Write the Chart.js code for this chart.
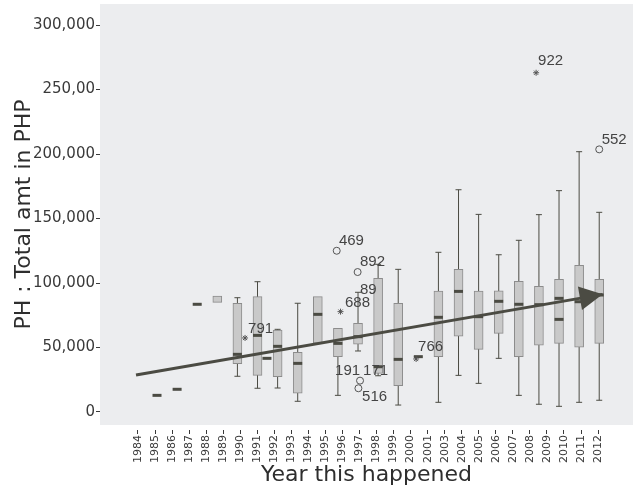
<!DOCTYPE html>
<html><head><meta charset="utf-8">
<script src="https://cdn.jsdelivr.net/npm/chart.js@4"></script>
<style>html,body{margin:0;padding:0;background:#fff}</style>
</head><body>
<canvas id="c" width="639" height="490"></canvas>
<script>
// ---- data ----
const yearLabels = ['1984','1985','1986','1987','1988','1989','1990','1991','1992','1993','1994','1995','1996','1997','1998','1999','2000','2001','2003','2004','2005','2006','2007','2008','2009','2010','2011','2012'];
const yTickValues = [0, 50000, 100000, 150000, 200000, 250000, 300000];
const yTickLabels = ['0', '50,000', '100,000', '150,000', '200,000', '250,00', '300,000'];

// box groups (slot = position of the group along the box axis)
const boxSlot = [0, 1, 2, 3, 4, 5, 5.47, 6, 7, 8, 9, 10, 11, 12, 13, 14, 15, 16, 17, 18, 19, 20, 21, 22];
const boxMin  = [null, null, null, null, 27700, 18400, null, 18600, 8300, null, 12900, 47300, 28100, 5400, null, 7500, 28400, 22200, 41600, 12900, 6000, 4400, 7500, 9100];
const boxQ1   = [null, null, null, 85000, 37400, 28400, null, 27400, 14500, 53300, 42900, 52500, 30000, 20400, null, 42900, 58700, 48600, 61000, 42900, 51900, 53200, 50200, 53200];
const boxMed  = [12900, 17600, 83500, null, 44700, 59400, 41600, 50900, 37700, 75700, 53200, 58400, 35100, 40800, 42900, 73400, 93500, 73900, 85800, 83500, 83200, 88100, 85500, 90700];
const boxMed2 = [null, null, null, null, null, null, null, null, null, null, null, null, null, null, null, null, null, null, null, null, null, 71800, null, null];
const boxQ3   = [null, null, null, 89900, 84300, 89400, null, 63600, 46300, 89400, 64900, 68700, 103600, 84300, null, 93800, 110600, 93800, 94000, 101300, 97400, 102900, 113700, 102900];
const boxMax  = [null, null, null, null, 88600, 101000, null, 64100, 84300, null, null, 92800, 114500, 110600, null, 123800, 172300, 153200, 121900, 133100, 153000, 171600, 201800, 154800];

// outliers
const outSlot  = [4.38, 8.94, 9.98, 9.13, 10.1, 10.02, 12.89, 18.86, 22.0];
const outValue = [57400, 125000, 108500, 77800, 24300, 18400, 41100, 263000, 203600];
const outKind  = ['star', 'circle', 'circle', 'star', 'circle', 'circle', 'star', 'star', 'circle'];

// case-number labels
const caseText  = ['791', '469', '892', '89', '688', '191', '171', '516', '766', '922', '552'];
const caseSlot  = [4.53, 9.05, 10.1, 10.1, 9.35, 8.86, 10.25, 10.2, 12.99, 18.96, 22.12];
const caseValue = [64700, 132600, 116300, 95000, 84900, 31800, 31800, 11600, 50400, 272100, 210900];

// trend arrow
const trendSlot  = [-1.045, 22.17];
const trendValue = [28700, 91200];

// ---- build ----
const DARK = '#4b4b43';
const boxes = [], whisk = [], caps = [], meds = [];
boxSlot.forEach((s, i) => {
  if (boxQ1[i] != null && boxQ3[i] != null) boxes.push({x: s, y: [boxQ1[i], boxQ3[i]]});
  const lo = boxMin[i] != null ? boxMin[i] : boxQ1[i];
  const hi = boxMax[i] != null ? boxMax[i] : boxQ3[i];
  if ((boxMin[i] != null || boxMax[i] != null) && lo != null && hi != null) {
    whisk.push({x: s, y: lo}, {x: s, y: hi}, {x: s, y: null});
  }
  if (boxMin[i] != null) caps.push({x: s, y: boxMin[i]});
  if (boxMax[i] != null) caps.push({x: s, y: boxMax[i]});
  if (boxMed[i] != null) meds.push({x: s, y: boxMed[i]});
  if (boxMed2[i] != null) meds.push({x: s, y: boxMed2[i]});
});
const circ = [], stars = [];
outSlot.forEach((s, i) => (outKind[i] === 'circle' ? circ : stars).push({x: s, y: outValue[i]}));

const bgPlugin = {
  id: 'bg',
  beforeDraw(chart) {
    const {ctx, chartArea: a} = chart;
    ctx.save(); ctx.fillStyle = '#ecedef';
    ctx.fillRect(a.left, a.top, a.right - a.left, a.bottom - a.top);
    ctx.restore();
  }
};
const annoPlugin = {
  id: 'anno',
  afterDatasetsDraw(chart) {
    const {ctx} = chart;
    const xs = chart.scales.xs, y = chart.scales.y;
    const meta = chart.getDatasetMeta(0);
    const p0 = meta.data[0], p1 = meta.data[1];
    const ang = Math.atan2(p1.y - p0.y, p1.x - p0.x);
    const L = 23, W = 12;
    const bx = p1.x - L * Math.cos(ang), by = p1.y - L * Math.sin(ang);
    ctx.save();
    ctx.fillStyle = DARK;
    ctx.beginPath();
    ctx.moveTo(p1.x, p1.y);
    ctx.lineTo(bx + W * Math.sin(ang), by - W * Math.cos(ang));
    ctx.lineTo(bx - W * Math.sin(ang), by + W * Math.cos(ang));
    ctx.closePath(); ctx.fill();
    ctx.fillStyle = '#444';
    ctx.font = "15px 'Liberation Sans Narrow', 'Liberation Sans', sans-serif";
    ctx.textAlign = 'left'; ctx.textBaseline = 'middle';
    caseText.forEach((t, i) => ctx.fillText(t, xs.getPixelForValue(caseSlot[i]), y.getPixelForValue(caseValue[i])));
    ctx.restore();
  }
};

const FONT = "'DejaVu Sans', sans-serif";
new Chart(document.getElementById('c'), {
  type: 'bar',
  data: {
    datasets: [
      {type: 'line', xAxisID: 'xs', yAxisID: 'y', order: 0,
       data: trendSlot.map((s, i) => ({x: s, y: trendValue[i]})),
       borderColor: DARK, borderWidth: 3, pointRadius: 0, fill: false, tension: 0},
      {type: 'scatter', xAxisID: 'xs', yAxisID: 'y', order: 1, data: circ,
       pointStyle: 'circle', pointRadius: 3.5, borderColor: '#555', backgroundColor: 'rgba(0,0,0,0)', borderWidth: 1},
      {type: 'scatter', xAxisID: 'xs', yAxisID: 'y', order: 1, data: stars,
       pointStyle: 'star', pointRadius: 3, borderColor: '#555', borderWidth: 1},
      {type: 'scatter', xAxisID: 'xs', yAxisID: 'y', order: 2, data: meds,
       pointStyle: 'line', pointRadius: 4.5, borderColor: DARK, borderWidth: 3},
      {type: 'scatter', xAxisID: 'xs', yAxisID: 'y', order: 3, data: caps,
       pointStyle: 'line', pointRadius: 3, borderColor: DARK, borderWidth: 1},
      {type: 'bar', xAxisID: 'xs', yAxisID: 'y', order: 4, data: boxes, grouped: false,
       barThickness: 9, backgroundColor: '#c9c9c9', borderColor: '#8c8c8c', borderWidth: 1, borderSkipped: false},
      {type: 'line', xAxisID: 'xs', yAxisID: 'y', order: 5, data: whisk, spanGaps: false,
       borderColor: DARK, borderWidth: 1, pointRadius: 0, fill: false}
    ]
  },
  options: {
    responsive: false, animation: false, devicePixelRatio: 1,
    layout: {autoPadding: false, padding: {top: 4, right: 6, left: 0, bottom: 0}},
    plugins: {legend: {display: false}, tooltip: {enabled: false}},
    scales: {
      xs: {type: 'linear', display: false, min: -2.836, max: 23.68, offset: false, grid: {offset: false}},
      x: {
        type: 'linear', position: 'bottom', min: -2.23, max: 29.05, offset: false,
        afterBuildTicks: s => { s.ticks = yearLabels.map((_, i) => ({value: i})); },
        afterFit: s => { s.height = 65; s.paddingLeft = 0; s.paddingRight = 0; },
        ticks: {autoSkip: false, minRotation: 90, maxRotation: 90, padding: 1, color: '#3a3a3a',
                font: {family: FONT, size: 11}, callback: v => yearLabels[v]},
        grid: {offset: false, drawOnChartArea: false, drawTicks: true, tickLength: 9, tickColor: '#3a3a3a', tickBorderDash: [0, 5, 4, 40]},
        border: {display: false},
        title: {display: true, text: 'Year this happened', color: '#2e2e2e', font: {family: FONT, size: 22}, padding: {top: 0, bottom: 2}}
      },
      y: {
        type: 'linear', min: -10080, max: 316300,
        afterBuildTicks: s => { s.ticks = yTickValues.map(v => ({value: v})); },
        afterFit: s => { s.width = 100; s.paddingTop = 0; s.paddingBottom = 0; },
        ticks: {padding: 1, color: '#3a3a3a', font: {family: FONT, size: 15},
                callback: v => yTickLabels[yTickValues.indexOf(v)]},
        grid: {drawOnChartArea: false, drawTicks: true, tickLength: 4, tickColor: '#3a3a3a'},
        border: {display: false},
        title: {display: true, text: 'PH : Total amt in PHP', color: '#2e2e2e', font: {family: FONT, size: 22}, padding: {top: 11, bottom: 0}}
      }
    }
  },
  plugins: [bgPlugin, annoPlugin]
});
</script>
</body></html>
